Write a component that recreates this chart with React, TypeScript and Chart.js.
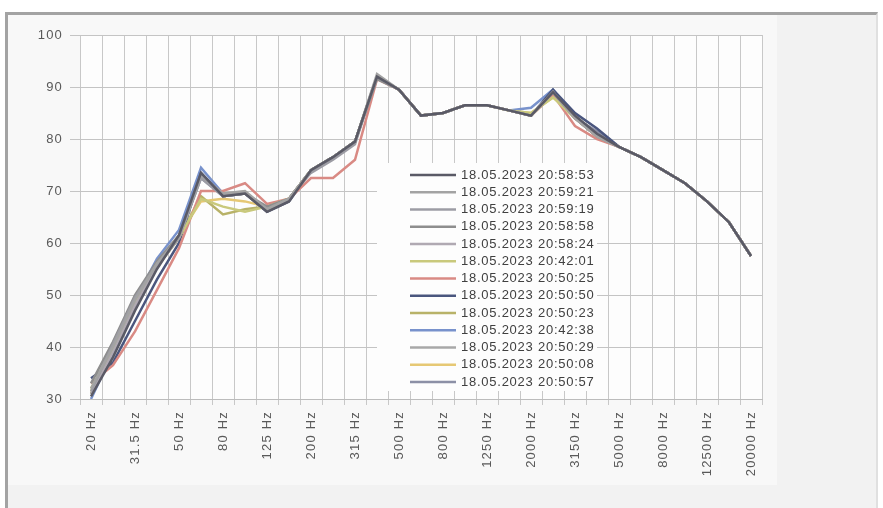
import React, { useEffect, useRef } from 'react';
import { Chart, registerables } from 'chart.js';

Chart.register(...registerables);

const categories = [
  '20 Hz', '25 Hz', '31.5 Hz', '40 Hz', '50 Hz', '63 Hz', '80 Hz', '100 Hz', '125 Hz', '160 Hz',
  '200 Hz', '250 Hz', '315 Hz', '400 Hz', '500 Hz', '630 Hz', '800 Hz', '1000 Hz', '1250 Hz', '1600 Hz',
  '2000 Hz', '2500 Hz', '3150 Hz', '4000 Hz', '5000 Hz', '6300 Hz', '8000 Hz', '10000 Hz', '12500 Hz', '16000 Hz',
  '20000 Hz',
];

const seriesNames = [
  '18.05.2023 20:58:53',
  '18.05.2023 20:59:21',
  '18.05.2023 20:59:19',
  '18.05.2023 20:58:58',
  '18.05.2023 20:58:24',
  '18.05.2023 20:42:01',
  '18.05.2023 20:50:25',
  '18.05.2023 20:50:50',
  '18.05.2023 20:50:23',
  '18.05.2023 20:42:38',
  '18.05.2023 20:50:29',
  '18.05.2023 20:50:08',
  '18.05.2023 20:50:57',
];

const s1 = [30.5, 38, 47, 55, 61.5, 73.5, 69, 69.5, 66, 68, 74, 76.5, 79.5, 92, 89.5, 84.5, 85, 86.5, 86.5, 85.5, 84.5, 89, 84.5, 81, 78.5, 76.5, 74, 71.5, 68, 64, 57.5];
const s2 = [32, 40, 49, 56, 61, 73, 69.5, 70, 66.5, 68.5, 74, 76.5, 79.5, 92.5, 89.5, 84.5, 85, 86.5, 86.5, 85.5, 84.5, 89, 84, 80.5, 78.5, 76.5, 74, 71.5, 68, 64, 57.5];
const s3 = [31.5, 40.5, 49.5, 56, 61, 72.5, 69, 69.5, 66.5, 68.5, 73.5, 76, 79, 92, 89.5, 84.5, 85, 86.5, 86.5, 85.5, 84.5, 89, 84, 80.5, 78.5, 76.5, 74, 71.5, 68, 64, 57.5];
const s4 = [33, 41, 50, 56.5, 61.5, 73, 69, 69.5, 67, 68.5, 74, 76.5, 79.5, 91.5, 89.5, 84.5, 85, 86.5, 86.5, 85.5, 84.5, 89, 84, 80.5, 78.5, 76.5, 74, 71.5, 68, 64, 57.5];
const s5 = [31, 39, 48, 55.5, 61, 73, 69.5, 69.5, 66.5, 68.5, 74, 76.5, 79.5, 92, 89.5, 84.5, 85, 86.5, 86.5, 85.5, 84.5, 89, 84, 80.5, 78.5, 76.5, 74, 71.5, 68, 64, 57.5];
const s6 = [32, 40, 48.5, 55.5, 61, 68.5, 67, 66, 67, 68.5, 74, 76.5, 79.5, 92, 89.5, 84.5, 85, 86.5, 86.5, 85.5, 85, 88, 84, 80.5, 78.5, 76.5, 74, 71.5, 68, 64, 57.5];
const s7 = [33, 36.5, 43, 51, 59, 70, 70, 71.5, 67.5, 68.5, 72.5, 72.5, 76, 91.5, 89.5, 84.5, 85, 86.5, 86.5, 85.5, 84.5, 88.5, 82.5, 80, 78.5, 76.5, 74, 71.5, 68, 64, 57.5];
const s8 = [34, 37, 45, 53, 60, 73.5, 69, 69.5, 66, 68, 74, 76.5, 79.5, 92, 89.5, 84.5, 85, 86.5, 86.5, 85.5, 84.5, 89.5, 85, 82, 78.5, 76.5, 74, 71.5, 68, 64, 57.5];
const s9 = [31, 39.5, 48.5, 55.5, 61, 69, 65.5, 66.5, 67, 68.5, 74, 76.5, 79.5, 92, 89.5, 84.5, 85, 86.5, 86.5, 85.5, 84.5, 88.5, 84, 80.5, 78.5, 76.5, 74, 71.5, 68, 64, 57.5];
const s10 = [30, 39, 49, 57, 62.5, 74.5, 69.5, 69.5, 66.5, 68.5, 74, 76.5, 79.5, 92, 89.5, 84.5, 85, 86.5, 86.5, 85.5, 86, 89.5, 84, 80.5, 78.5, 76.5, 74, 71.5, 68, 64, 57.5];
const s11 = [31, 39.5, 48.5, 55.5, 61, 73, 69, 69.5, 66.5, 68.5, 74, 76.5, 79.5, 92, 89.5, 84.5, 85, 86.5, 86.5, 85.5, 84.5, 89, 84, 80.5, 78.5, 76.5, 74, 71.5, 68, 64, 57.5];
const s12 = [31.5, 40, 49, 56, 61.5, 68, 68.5, 68, 67, 68.5, 74, 76.5, 79.5, 92, 89.5, 84.5, 85, 86.5, 86.5, 85.5, 85, 88, 84.5, 80.5, 78.5, 76.5, 74, 71.5, 68, 64, 57.5];
const s13 = [31, 39, 48, 55.5, 61, 72.5, 69, 69.5, 66.5, 68.5, 74, 76.5, 79.5, 92, 89.5, 84.5, 85, 86.5, 86.5, 85.5, 84.5, 89, 84, 81.5, 78.5, 76.5, 74, 71.5, 68, 64, 57.5];

const seriesColors = [
  '#5a5a66', '#a3a3a3', '#9c9ca4', '#8e8e8e', '#b0a9b2', '#c9c97c', '#d98a84',
  '#4a567e', '#b8b268', '#7892cc', '#a8a8a8', '#e6c874', '#8c90a6',
];

const yMin = 30;
const yMax = 100;
const yStep = 10;

const bgPlugin = {
  id: 'bgPlugin',
  beforeDraw(chart: any) {
    const { ctx, chartArea, width, height } = chart;
    ctx.save();
    ctx.fillStyle = '#f8f8f8';
    ctx.fillRect(0, 0, width, height);
    ctx.fillStyle = '#fdfdfd';
    ctx.fillRect(chartArea.left, chartArea.top, chartArea.right - chartArea.left, chartArea.bottom - chartArea.top);
    ctx.restore();
    ctx.letterSpacing = '1.2px';
  },
};

const legendPlugin = {
  id: 'inlineLegend',
  beforeDatasetsDraw(chart: any) {
    const { ctx, chartArea } = chart;
    const bx = chartArea.left + 297;
    const by = chartArea.top + 128;
    ctx.save();
    ctx.fillStyle = '#fdfdfd';
    ctx.fillRect(bx, by, 220, 228);
    ctx.letterSpacing = '0.75px';
    ctx.font = '13px "Liberation Sans", Arial, sans-serif';
    ctx.textBaseline = 'middle';
    ctx.textAlign = 'left';
    chart.data.datasets.forEach((ds: any, k: number) => {
      const y = chartArea.top + 140 + 17.25 * k;
      ctx.strokeStyle = ds.borderColor;
      ctx.lineWidth = 2.5;
      ctx.beginPath();
      ctx.moveTo(chartArea.left + 330, y);
      ctx.lineTo(chartArea.left + 376, y);
      ctx.stroke();
      ctx.fillStyle = '#404040';
      ctx.fillText(ds.label, chartArea.left + 381, y);
    });
    ctx.restore();
  },
};

export default function App() {
  const ref = useRef<HTMLCanvasElement>(null);

  useEffect(() => {
    const canvas = ref.current;
    if (!canvas) return;
    const all = [s1, s2, s3, s4, s5, s6, s7, s8, s9, s10, s11, s12, s13];
    const font = { family: '"Liberation Sans", Arial, sans-serif', size: 13 };
    const chart = new Chart(canvas, {
      type: 'line',
      data: {
        labels: categories,
        datasets: all.map((d, i) => ({
          label: seriesNames[i],
          data: d,
          borderColor: seriesColors[i],
          backgroundColor: seriesColors[i],
          borderWidth: 2.5,
          pointRadius: 0,
          tension: 0,
          fill: false,
        })),
      },
      options: {
        animation: false,
        responsive: false,
        devicePixelRatio: 1,
        layout: { padding: { top: 20, right: 15, left: 0, bottom: 0 } },
        plugins: { legend: { display: false }, tooltip: { enabled: false } },
        scales: {
          x: {
            offset: true,
            grid: { offset: true, color: '#c8c8c8', tickLength: 6, drawTicks: true },
            border: { color: '#bcbcbc' },
            ticks: {
              autoSkip: false,
              maxRotation: 90,
              minRotation: 90,
              padding: 6,
              color: '#595959',
              font,
              callback: (_v: any, i: number) => (i % 2 === 0 ? categories[i] : ''),
            },
            afterFit: (s: any) => { s.height = 86; },
          },
          y: {
            min: yMin,
            max: yMax,
            ticks: { stepSize: yStep, padding: 7, color: '#595959', font },
            grid: { color: '#c4c4c4', tickLength: 10 },
            border: { display: false },
            afterFit: (s: any) => { s.width = 72; },
          },
        },
      },
      plugins: [bgPlugin, legendPlugin],
    } as any);
    return () => chart.destroy();
  }, []);

  return (
    <div style={{ position: 'fixed', left: 0, top: 0, width: 883, height: 508, background: '#ffffff', overflow: 'hidden' }}>
      <div
        style={{
          position: 'absolute', left: 5, top: 12, width: 873, height: 500,
          background: '#f2f2f2', borderLeft: '3px solid #a3a3a3', borderTop: '3px solid #a3a3a3',
          borderRight: '2px solid #e0e0e0', boxSizing: 'border-box',
        }}
      />
      <canvas
        ref={ref}
        width={769}
        height={470}
        style={{ position: 'absolute', left: 8, top: 15, width: 769, height: 470 }}
      />
    </div>
  );
}
